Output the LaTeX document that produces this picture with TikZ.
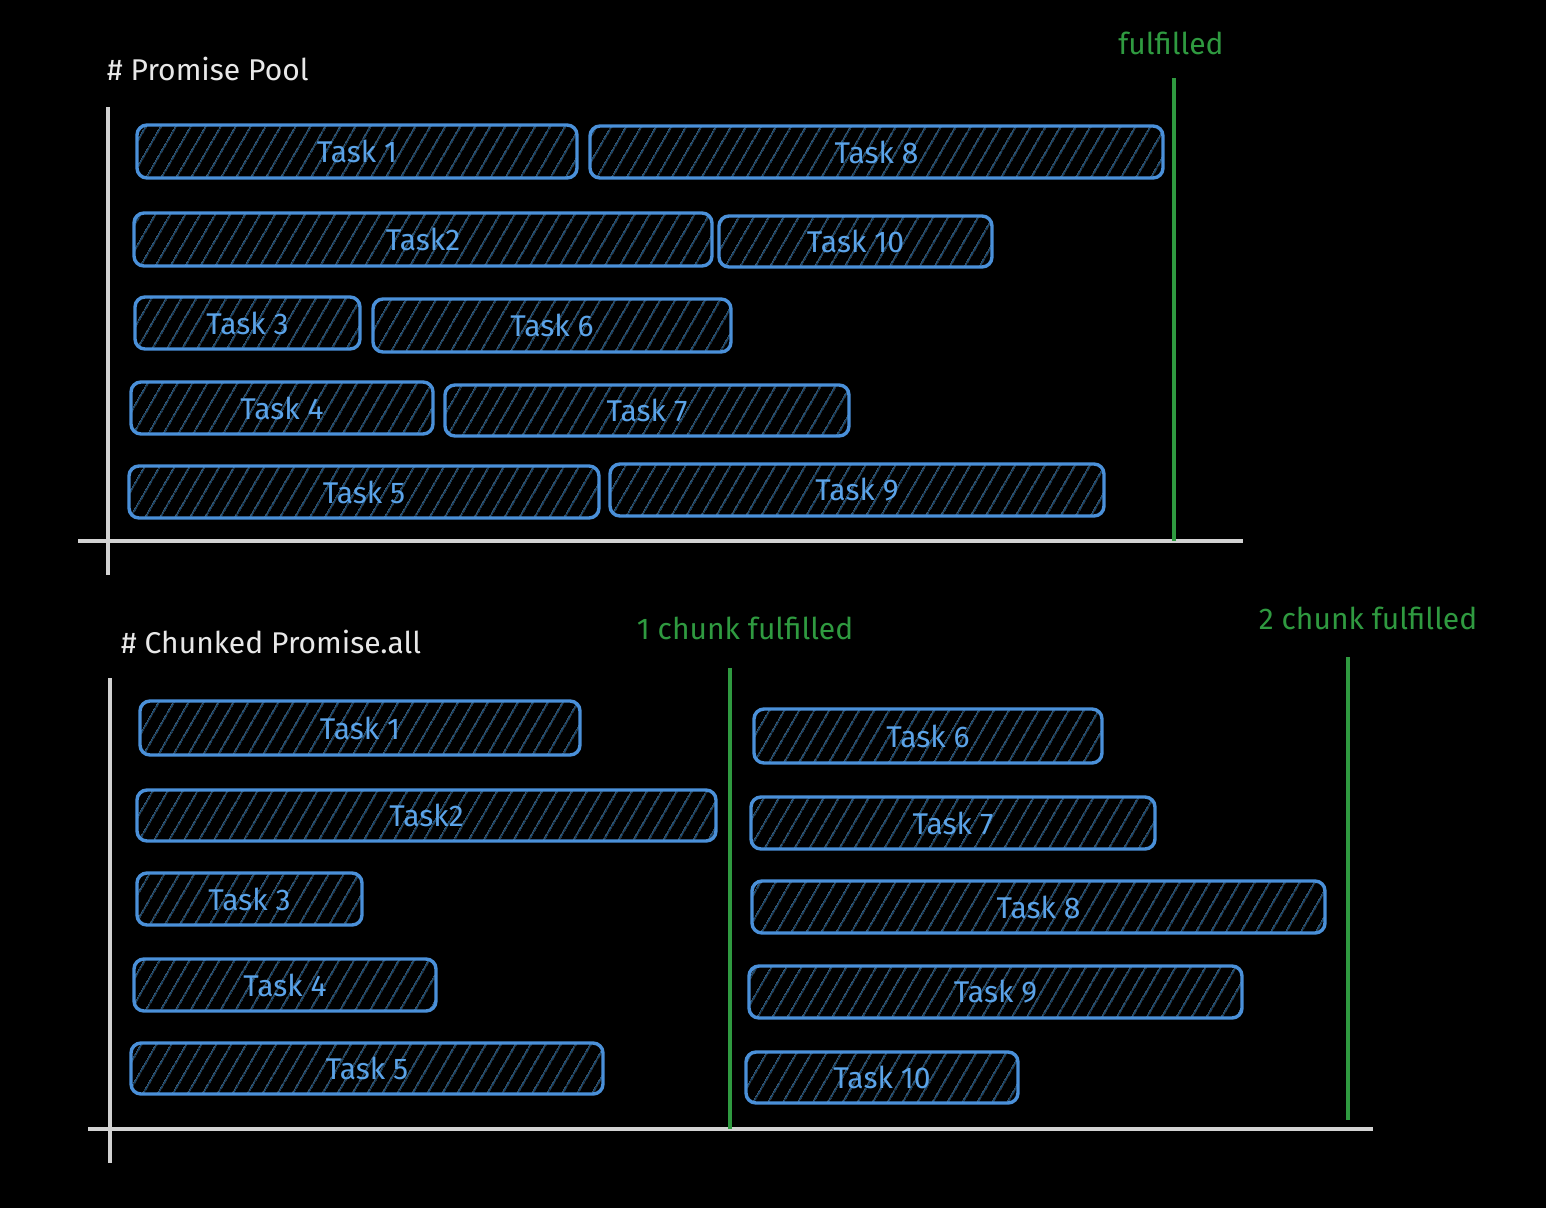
\documentclass[tikz,border=0pt]{standalone}
\usepackage{fontspec}
\setmainfont{Fira Sans}
\usetikzlibrary{patterns.meta}
\definecolor{boxblue}{HTML}{4A90D9}
\definecolor{hatchblue}{HTML}{1B5585}
\definecolor{txtblue}{HTML}{5BA3E8}
\definecolor{fgreen}{HTML}{2F9A40}
\definecolor{axisgray}{HTML}{D2D2D2}
\definecolor{headgray}{HTML}{E8E8E8}
\tikzset{
  taskbox/.style={draw=boxblue, line width=3.4pt, rounded corners=10pt,
    pattern={Lines[angle=60,distance=13pt,line width=1.3pt]}, pattern color=hatchblue,
    text=txtblue, font=\fontsize{30}{30}\selectfont, inner sep=0pt, outer sep=0pt},
  axisline/.style={draw=axisgray, line width=3.4pt},
  doneline/.style={draw=fgreen, line width=3.6pt},
  headtext/.style={text=headgray, font=\fontsize{30}{30}\selectfont, inner sep=0pt, anchor=west},
  donetext/.style={text=fgreen, font=\fontsize{30}{30}\selectfont, inner sep=0pt},
}
\newcommand{\tsk}[6]{%
  \pgfmathsetmacro{\tw}{#4-#2}\pgfmathsetmacro{\th}{#5-#3}%
  \node[taskbox, minimum width=\tw pt, minimum height=\th pt] (#1) at ({(#2+#4)/2},{(#3+#5)/2}) {#6};}
\begin{document}
\begin{tikzpicture}[x=1pt,y=-1pt]
\fill[black] (0,0) rectangle (1546,1208);
\useasboundingbox (0,0) rectangle (1546,1208);

% ---------- Promise Pool ----------
\node[headtext] (h1) at (107,69) {\# Promise Pool};
\coordinate (a1top) at (108,107);
\coordinate (a1bot) at (108,575);
\coordinate (a1l) at (78,541);
\coordinate (a1r) at (1243,541);
\draw[axisline] (a1top) -- (a1bot);
\draw[axisline] (a1l) -- (a1r);

\tsk{p1}{137}{125}{577}{178}{Task 1}
\tsk{p8}{590}{126}{1163}{178}{Task 8}
\tsk{p2}{134}{213}{712}{266}{Task2}
\tsk{p10}{719}{216}{992}{267}{Task 10}
\tsk{p3}{135}{297}{360}{349}{Task 3}
\tsk{p6}{373}{299}{731}{352}{Task 6}
\tsk{p4}{131}{382}{433}{434}{Task 4}
\tsk{p7}{445}{385}{849}{436}{Task 7}
\tsk{p5}{129}{466}{599}{518}{Task 5}
\tsk{p9}{610}{464}{1104}{516}{Task 9}

\node[donetext] (f1) at (1171,43) {fulfilled};
\coordinate (g1t) at (1174,78);
\coordinate (g1b) at (1174,541);
\draw[doneline] (g1t) -- (g1b);

% ---------- Chunked Promise.all ----------
\node[headtext] (h2) at (121,642) {\# Chunked Promise.all};
\coordinate (a2top) at (110,678);
\coordinate (a2bot) at (110,1163);
\coordinate (a2l) at (88,1129);
\coordinate (a2r) at (1373,1129);
\draw[axisline] (a2top) -- (a2bot);
\draw[axisline] (a2l) -- (a2r);

\tsk{c1}{140}{701}{580}{755}{Task 1}
\tsk{c2}{137}{790}{716}{841}{Task2}
\tsk{c3}{137}{873}{362}{925}{Task 3}
\tsk{c4}{134}{959}{436}{1011}{Task 4}
\tsk{c5}{131}{1043}{603}{1094}{Task 5}
\tsk{c6}{754}{709}{1102}{763}{Task 6}
\tsk{c7}{751}{797}{1155}{849}{Task 7}
\tsk{c8}{752}{881}{1325}{933}{Task 8}
\tsk{c9}{749}{966}{1242}{1018}{Task 9}
\tsk{c10}{746}{1052}{1018}{1103}{Task 10}

\node[donetext] (f2) at (745,628) {1 chunk fulfilled};
\coordinate (g2t) at (730,668);
\coordinate (g2b) at (730,1129);
\draw[doneline] (g2t) -- (g2b);

\node[donetext] (f3) at (1368,618) {2 chunk fulfilled};
\coordinate (g3t) at (1348,657);
\coordinate (g3b) at (1348,1120);
\draw[doneline] (g3t) -- (g3b);
\end{tikzpicture}
\end{document}
